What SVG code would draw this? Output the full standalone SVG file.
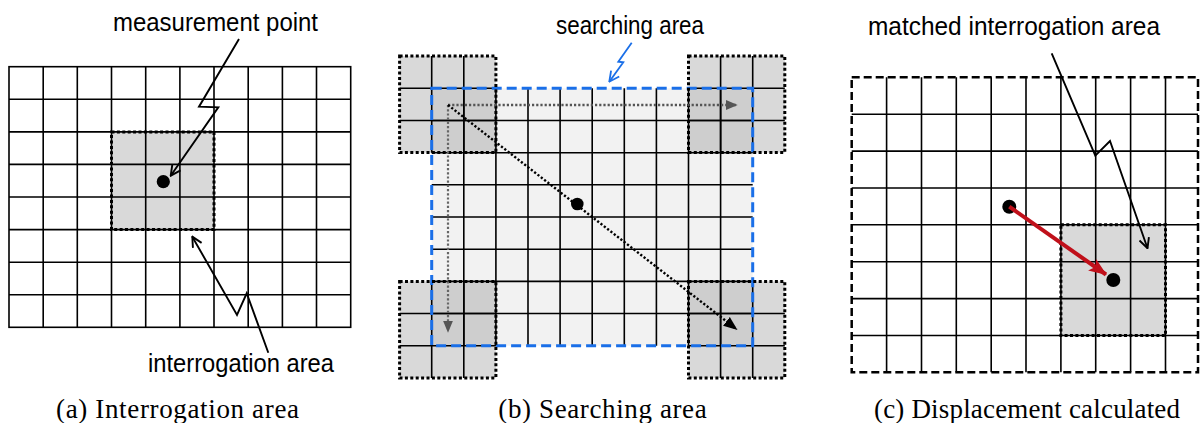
<svg xmlns="http://www.w3.org/2000/svg" width="1200" height="423" viewBox="0 0 1200 423">
<style>
.lbl{font-family:"Liberation Sans",Arial,sans-serif;font-size:25.5px;fill:#000}
.cap{font-family:"Liberation Serif","Times New Roman",serif;font-size:27px;fill:#000}
.grid{stroke:#000;stroke-width:1.6;fill:none}
.dotbox{stroke:#000;stroke-width:3;stroke-dasharray:3 2.4;fill:none}
.lead{stroke:#000;stroke-width:1.9;fill:none}
</style>
<defs>
<marker id="openHead" viewBox="0 0 12 12" refX="11" refY="6" markerWidth="12" markerHeight="12" markerUnits="userSpaceOnUse" orient="auto">
<path d="M1,1 L11,6 L1,11" fill="none" stroke="#000" stroke-width="1.9"/>
</marker>
<marker id="openHeadBlue" viewBox="0 0 12 12" refX="11" refY="6" markerWidth="12" markerHeight="12" markerUnits="userSpaceOnUse" orient="auto">
<path d="M1,1 L11,6 L1,11" fill="none" stroke="#1a6fe8" stroke-width="1.8"/>
</marker>
<marker id="triGray" viewBox="0 0 12 12" refX="11" refY="6" markerWidth="12" markerHeight="12" markerUnits="userSpaceOnUse" orient="auto">
<path d="M0,1 L12,6 L0,11 Z" fill="#555"/>
</marker>
<marker id="triBlack" viewBox="0 0 14 12" refX="13" refY="6" markerWidth="14" markerHeight="12" markerUnits="userSpaceOnUse" orient="auto">
<path d="M0,0.5 L14,6 L0,11.5 Z" fill="#000"/>
</marker>
<marker id="triRed" viewBox="0 0 18 14" refX="17" refY="7" markerWidth="18" markerHeight="14" markerUnits="userSpaceOnUse" orient="auto">
<path d="M0,0 L18,7 L0,14 L4,7 Z" fill="#c0101a"/>
</marker>
</defs>
<rect width="1200" height="423" fill="#fff"/>

<!-- Panel (a) -->
<g id="panel-a">
<rect x="111.5" y="131.9" width="102.5" height="97.7" fill="#d9d9d9"/>
<g class="grid">
<rect x="9" y="66.7" width="341.7" height="260.6"/>
<path d="M43.2,66.7V327.3M77.3,66.7V327.3M111.5,66.7V327.3M145.7,66.7V327.3M179.9,66.7V327.3M214,66.7V327.3M248.2,66.7V327.3M282.4,66.7V327.3M316.5,66.7V327.3"/>
<path d="M9,99.3H350.7M9,131.9H350.7M9,164.4H350.7M9,197H350.7M9,229.6H350.7M9,262.2H350.7M9,294.7H350.7"/>
</g>
<rect class="dotbox" x="111.5" y="131.9" width="102.5" height="97.7"/>
<circle cx="163.3" cy="181.7" r="6.6" fill="#000"/>
</g>

<!-- Panel (b) -->
<g id="panel-b">
<rect x="431.7" y="88.3" width="321" height="257.4" fill="#f2f2f2"/>
<g fill="#000" fill-opacity="0.15">
<rect x="399.6" y="56.1" width="96.3" height="96.5"/>
<rect x="688.5" y="56.1" width="96.3" height="96.5"/>
<rect x="399.6" y="281.4" width="96.3" height="96.5"/>
<rect x="688.5" y="281.4" width="96.3" height="96.5"/>
</g>
<g class="grid">
<path d="M463.8,88.3V345.7M495.9,88.3V345.7M528,88.3V345.7M560.1,88.3V345.7M592.2,88.3V345.7M624.3,88.3V345.7M656.4,88.3V345.7M688.5,88.3V345.7M720.6,88.3V345.7"/>
<path d="M431.7,120.5H752.7M431.7,152.7H752.7M431.7,184.8H752.7M431.7,217H752.7M431.7,249.2H752.7M431.7,281.4H752.7M431.7,313.5H752.7"/>
<path d="M431.7,56.1V152.7M463.8,56.1V152.7M399.6,88.3H495.9M399.6,120.5H495.9"/>
<path d="M720.6,56.1V152.7M752.7,56.1V152.7M688.5,88.3H784.8M688.5,120.5H784.8"/>
<path d="M431.7,281.4V377.9M463.8,281.4V377.9M399.6,313.5H495.9M399.6,345.7H495.9"/>
<path d="M720.6,281.4V377.9M752.7,281.4V377.9M688.5,313.5H784.8M688.5,345.7H784.8"/>
</g>
<rect x="431.7" y="88.3" width="321" height="257.4" fill="none" stroke="#1a6fe8" stroke-width="3" stroke-dasharray="10 5"/>
<g class="dotbox">
<rect x="399.6" y="56.1" width="96.3" height="96.5"/>
<rect x="688.5" y="56.1" width="96.3" height="96.5"/>
<rect x="399.6" y="281.4" width="96.3" height="96.5"/>
<rect x="688.5" y="281.4" width="96.3" height="96.5"/>
</g>
<circle cx="577.3" cy="204" r="6.3" fill="#000"/>
</g>

<!-- Panel (c) -->
<g id="panel-c">
<rect x="1060.9" y="224.8" width="104.6" height="110.7" fill="#d9d9d9"/>
<g class="grid">
<path d="M886.6,77.3V372.3M921.5,77.3V372.3M956.3,77.3V372.3M991.2,77.3V372.3M1026,77.3V372.3M1060.9,77.3V372.3M1095.7,77.3V372.3M1130.6,77.3V372.3M1165.5,77.3V372.3"/>
<path d="M851.7,114.2H1198M851.7,151.1H1198M851.7,188H1198M851.7,224.8H1198M851.7,261.7H1198M851.7,298.6H1198M851.7,335.5H1198"/>
</g>
<rect x="851.7" y="77.3" width="346.3" height="295" fill="none" stroke="#000" stroke-width="2.5" stroke-dasharray="8 4"/>
<rect class="dotbox" x="1060.9" y="224.8" width="104.6" height="110.7"/>
<circle cx="1009.3" cy="206.7" r="7" fill="#000"/>
<circle cx="1113.3" cy="280" r="7" fill="#000"/>
</g>

<g id="connectors">
<polyline class="lead" points="239,39 199,106.7 218.3,107.3 170.7,175.7" marker-end="url(#openHead)"/>
<polyline class="lead" points="268.3,352.7 246.7,293.3 237,315 192.3,236.7" marker-end="url(#openHead)"/>
<polyline points="631.7,42.7 618.3,61.7 623.3,62.3 609.3,81.7" fill="none" stroke="#1a6fe8" stroke-width="1.8" marker-end="url(#openHeadBlue)"/>
<line x1="448" y1="105" x2="736.7" y2="105" stroke="#555" stroke-width="2.4" stroke-dasharray="2.2 2" marker-end="url(#triGray)"/>
<line x1="448" y1="105" x2="448" y2="331.7" stroke="#666" stroke-width="2.2" stroke-dasharray="2.2 2" marker-end="url(#triGray)"/>
<line x1="448" y1="105" x2="736.7" y2="329.3" stroke="#000" stroke-width="2.4" stroke-dasharray="2.2 2" marker-end="url(#triBlack)"/>
<polyline class="lead" points="1051.7,53.3 1095.3,155.7 1110,141 1147.5,248.3" marker-end="url(#openHead)"/>
<line x1="1009.3" y1="206.7" x2="1106" y2="274.5" stroke="#c0101a" stroke-width="4" marker-end="url(#triRed)"/>
</g>

<g id="label-measurement">
<text class="lbl" x="215.5" y="31" text-anchor="middle" textLength="205" lengthAdjust="spacingAndGlyphs">measurement point</text>
</g>
<g id="label-interrogation">
<text class="lbl" x="241" y="372" text-anchor="middle" textLength="186" lengthAdjust="spacingAndGlyphs">interrogation area</text>
</g>
<g id="label-searching">
<text class="lbl" x="630" y="34" text-anchor="middle" textLength="148" lengthAdjust="spacingAndGlyphs">searching area</text>
</g>
<g id="label-matched">
<text class="lbl" x="1014" y="35" text-anchor="middle" textLength="292" lengthAdjust="spacingAndGlyphs">matched interrogation area</text>
</g>
<g id="caption-a">
<text class="cap" x="56" y="418" textLength="243" lengthAdjust="spacing">(a) Interrogation  area</text>
</g>
<g id="caption-b">
<text class="cap" x="498.3" y="418" textLength="208.4" lengthAdjust="spacing">(b) Searching  area</text>
</g>
<g id="caption-c">
<text class="cap" x="874" y="418" textLength="306" lengthAdjust="spacing">(c) Displacement  calculated</text>
</g>
</svg>
